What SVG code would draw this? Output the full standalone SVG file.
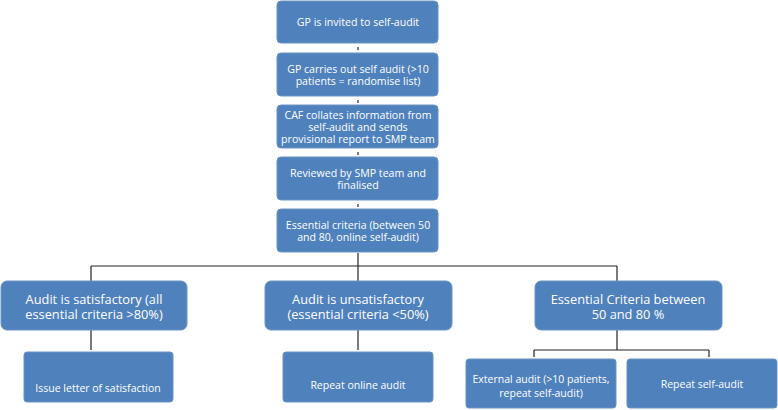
<svg xmlns="http://www.w3.org/2000/svg" width="778" height="410" viewBox="0 0 778 410">
<style>
.box{fill:#4f81bd;stroke:#6a93c6;stroke-width:1}
.t{fill:#fff;font-family:"Open Sans","Liberation Sans",sans-serif;text-anchor:middle;dominant-baseline:central}
.s{font-size:10.6px}
.m{font-size:12.8px}
.l{font-size:10.5px}
.c{stroke:#222;stroke-width:1.2;fill:none}
</style>
<rect width="778" height="410" fill="#fff"/>
<g id="connectors">
<path class="c" d="M358 47V50M358 100V103M358 152V155M358 204V207M358 253V266M91 266H617M91 266V281M358 266V281M617 266V281M91 330V350M358 330V350M617 330V350M534 350H709M534 350V357M709 350V357"/>
</g>
<g id="n1"><rect class="box" x="277" y="1" width="161" height="42" rx="4"/><text class="t s" x="358" y="22">GP is invited to self-audit</text></g>
<g id="n2"><rect class="box" x="277" y="53" width="161" height="43" rx="4"/><text class="t s" x="358" y="68.5">GP carries out self audit (&gt;10</text><text class="t s" x="358" y="81">patients = randomise list)</text></g>
<g id="n3"><rect class="box" x="277" y="105" width="161" height="43" rx="4"/><text class="t s" x="358" y="114.5">CAF collates information from</text><text class="t s" x="358" y="126.5">self-audit and sends</text><text class="t s" x="358" y="138.5">provisional report to SMP team</text></g>
<g id="n4"><rect class="box" x="277" y="157" width="161" height="43" rx="4"/><text class="t s" x="358" y="172.5">Reviewed by SMP team and</text><text class="t s" x="358" y="184.5">finalised</text></g>
<g id="n5"><rect class="box" x="277" y="209" width="161" height="43" rx="4"/><text class="t s" x="358" y="224.5">Essential criteria (between 50</text><text class="t s" x="358" y="237">and 80, online self-audit)</text></g>
<g id="n6"><rect class="box" x="1" y="281" width="186" height="49" rx="6"/><text class="t m" x="94" y="298.5">Audit is satisfactory (all</text><text class="t m" x="94" y="313.5">essential criteria &gt;80%)</text></g>
<g id="n7"><rect class="box" x="265" y="281" width="187" height="49" rx="6"/><text class="t m" x="358" y="298.5">Audit is unsatisfactory</text><text class="t m" x="358" y="313.5">(essential criteria &lt;50%)</text></g>
<g id="n8"><rect class="box" x="535" y="281" width="187" height="49" rx="6"/><text class="t m" x="628" y="298.5">Essential Criteria between</text><text class="t m" x="628" y="313.5">50 and 80 %</text></g>
<g id="n9"><rect class="box" x="24" y="352" width="149" height="50" rx="3"/><text class="t l" x="98" y="388">Issue letter of satisfaction</text></g>
<g id="n10"><rect class="box" x="283" y="352" width="150" height="50" rx="3"/><text class="t l" x="358" y="385">Repeat online audit</text></g>
<g id="n11"><rect class="box" x="466" y="359" width="150" height="49" rx="3"/><text class="t l" x="541" y="379">External audit (&gt;10 patients,</text><text class="t l" x="541" y="393">repeat self-audit)</text></g>
<g id="n12"><rect class="box" x="627" y="359" width="150" height="49" rx="3"/><text class="t l" x="702" y="384">Repeat self-audit</text></g>
</svg>
